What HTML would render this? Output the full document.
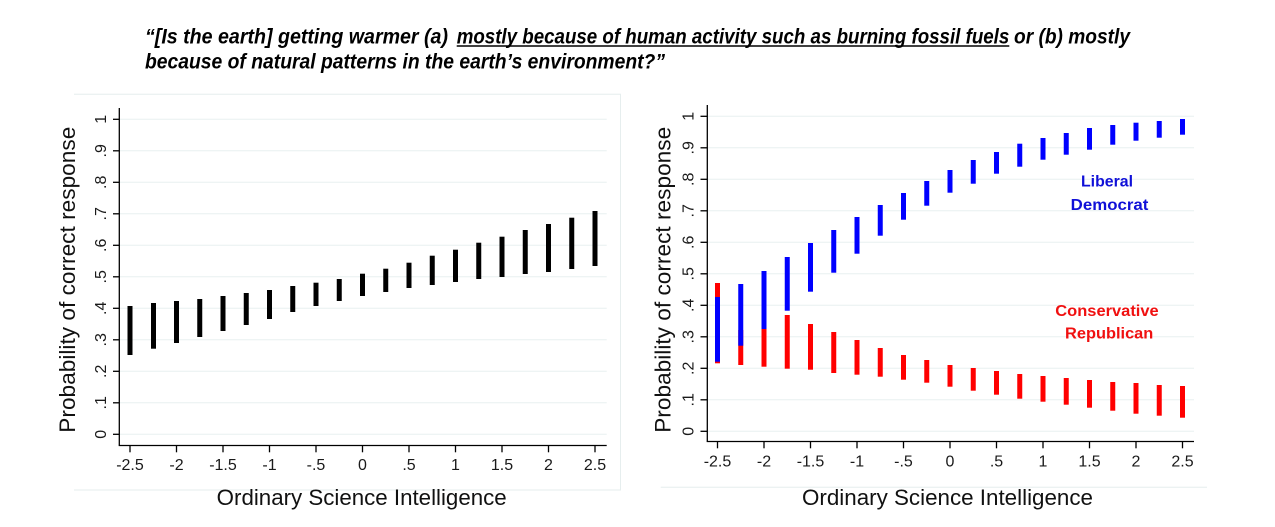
<!DOCTYPE html>
<html><head><meta charset="utf-8"><style>
html,body{margin:0;padding:0;background:#fff;}
svg{display:block;}
.t{font-family:"Liberation Sans",sans-serif;font-size:16px;fill:#1a1a1a;}
.ti{font-family:"Liberation Sans",sans-serif;font-size:22px;fill:#111;}
.hd{font-family:"Liberation Sans",sans-serif;font-size:21px;font-weight:bold;font-style:italic;fill:#000;}
.lb{font-family:"Liberation Sans",sans-serif;font-size:16px;font-weight:bold;}
</style></head><body>
<svg width="1275" height="527" viewBox="0 0 1275 527" xmlns="http://www.w3.org/2000/svg">
<rect x="0" y="0" width="1275" height="527" fill="#fff"/>
<!-- Title -->
<text class="hd" x="145" y="43.3" textLength="303" lengthAdjust="spacingAndGlyphs">“[Is the earth] getting warmer (a)</text>
<text class="hd" x="456.7" y="43.3" textLength="552.6" lengthAdjust="spacingAndGlyphs">mostly because of human activity such as burning fossil fuels</text>
<text class="hd" x="1014" y="43.3" textLength="116" lengthAdjust="spacingAndGlyphs">or (b) mostly</text>
<line x1="456.7" y1="46" x2="1009.3" y2="46" stroke="#000" stroke-width="1.5"/>
<text class="hd" x="145" y="68.3" textLength="520" lengthAdjust="spacingAndGlyphs">because of natural patterns in the earth’s environment?”</text>

<!-- Left region faint box -->
<polyline points="74,94.3 620.5,94.3 620.5,490 74,490" fill="none" stroke="#e6eeee" stroke-width="1"/>
<!-- Right region bottom line -->
<line x1="660.7" y1="487.3" x2="1207" y2="487.3" stroke="#e6eeee" stroke-width="1"/>

<!-- LEFT CHART -->
<g id="left">
<g stroke="#e8f0f0" stroke-width="1">
<line x1="119" y1="434.3" x2="606.7" y2="434.3"/>
<line x1="119" y1="402.8" x2="606.7" y2="402.8"/>
<line x1="119" y1="371.3" x2="606.7" y2="371.3"/>
<line x1="119" y1="339.8" x2="606.7" y2="339.8"/>
<line x1="119" y1="308.3" x2="606.7" y2="308.3"/>
<line x1="119" y1="276.8" x2="606.7" y2="276.8"/>
<line x1="119" y1="245.3" x2="606.7" y2="245.3"/>
<line x1="119" y1="213.8" x2="606.7" y2="213.8"/>
<line x1="119" y1="182.3" x2="606.7" y2="182.3"/>
<line x1="119" y1="150.8" x2="606.7" y2="150.8"/>
<line x1="119" y1="119.3" x2="606.7" y2="119.3"/>
</g>
<g stroke="#000" stroke-width="1.3">
<line x1="119.3" y1="108" x2="119.3" y2="445.5"/>
<line x1="118.7" y1="445.5" x2="606.7" y2="445.5"/>
<line x1="113" y1="434.3" x2="119.3" y2="434.3"/>
<line x1="113" y1="402.8" x2="119.3" y2="402.8"/>
<line x1="113" y1="371.3" x2="119.3" y2="371.3"/>
<line x1="113" y1="339.8" x2="119.3" y2="339.8"/>
<line x1="113" y1="308.3" x2="119.3" y2="308.3"/>
<line x1="113" y1="276.8" x2="119.3" y2="276.8"/>
<line x1="113" y1="245.3" x2="119.3" y2="245.3"/>
<line x1="113" y1="213.8" x2="119.3" y2="213.8"/>
<line x1="113" y1="182.3" x2="119.3" y2="182.3"/>
<line x1="113" y1="150.8" x2="119.3" y2="150.8"/>
<line x1="113" y1="119.3" x2="119.3" y2="119.3"/>
<line x1="130" y1="445.5" x2="130" y2="452.3"/>
<line x1="176.5" y1="445.5" x2="176.5" y2="452.3"/>
<line x1="223" y1="445.5" x2="223" y2="452.3"/>
<line x1="269.5" y1="445.5" x2="269.5" y2="452.3"/>
<line x1="316" y1="445.5" x2="316" y2="452.3"/>
<line x1="362.5" y1="445.5" x2="362.5" y2="452.3"/>
<line x1="409" y1="445.5" x2="409" y2="452.3"/>
<line x1="455.5" y1="445.5" x2="455.5" y2="452.3"/>
<line x1="502" y1="445.5" x2="502" y2="452.3"/>
<line x1="548.5" y1="445.5" x2="548.5" y2="452.3"/>
<line x1="595" y1="445.5" x2="595" y2="452.3"/>
</g>
<g class="t" text-anchor="middle">
<text x="130" y="470">-2.5</text>
<text x="176.5" y="470">-2</text>
<text x="223" y="470">-1.5</text>
<text x="269.5" y="470">-1</text>
<text x="316" y="470">-.5</text>
<text x="362.5" y="470">0</text>
<text x="409" y="470">.5</text>
<text x="455.5" y="470">1</text>
<text x="502" y="470">1.5</text>
<text x="548.5" y="470">2</text>
<text x="595" y="470">2.5</text>
</g>
<g class="t" text-anchor="middle">
<text transform="translate(106,434.3) rotate(-90)">0</text>
<text transform="translate(106,402.8) rotate(-90)">.1</text>
<text transform="translate(106,371.3) rotate(-90)">.2</text>
<text transform="translate(106,339.8) rotate(-90)">.3</text>
<text transform="translate(106,308.3) rotate(-90)">.4</text>
<text transform="translate(106,276.8) rotate(-90)">.5</text>
<text transform="translate(106,245.3) rotate(-90)">.6</text>
<text transform="translate(106,213.8) rotate(-90)">.7</text>
<text transform="translate(106,182.3) rotate(-90)">.8</text>
<text transform="translate(106,150.8) rotate(-90)">.9</text>
<text transform="translate(106,119.3) rotate(-90)">1</text>
</g>
<text class="ti" text-anchor="middle" transform="translate(75,279.7) rotate(-90)" textLength="306" lengthAdjust="spacingAndGlyphs">Probability of correct response</text>
<text class="ti" x="216.7" y="505" textLength="290" lengthAdjust="spacingAndGlyphs">Ordinary Science Intelligence</text>
<g fill="#000">
<rect x="127.5" y="306" width="5" height="49"/>
<rect x="151" y="303" width="5" height="45.7"/>
<rect x="174" y="301" width="5" height="42"/>
<rect x="197.25" y="299" width="5" height="38"/>
<rect x="220.5" y="296" width="5" height="35"/>
<rect x="243.75" y="293" width="5" height="32"/>
<rect x="267" y="290" width="5" height="29"/>
<rect x="290.25" y="286" width="5" height="26"/>
<rect x="313.5" y="282.7" width="5" height="23.3"/>
<rect x="336.75" y="279" width="5" height="22"/>
<rect x="360" y="273.7" width="5" height="22.3"/>
<rect x="383.25" y="268.7" width="5" height="23.3"/>
<rect x="406.5" y="262.7" width="5" height="25.3"/>
<rect x="429.75" y="255.7" width="5" height="29.3"/>
<rect x="453" y="249.7" width="5" height="32.3"/>
<rect x="476.25" y="242.7" width="5" height="36.3"/>
<rect x="499.5" y="236.7" width="5" height="40.3"/>
<rect x="522.75" y="230" width="5" height="44"/>
<rect x="546" y="224" width="5" height="48"/>
<rect x="569.25" y="217.7" width="5" height="51.3"/>
<rect x="592.5" y="211" width="5" height="55"/>
</g>
</g>

<!-- RIGHT CHART -->
<g id="right">
<g stroke="#e8f0f0" stroke-width="1">
<line x1="707" y1="431.3" x2="1194" y2="431.3"/>
<line x1="707" y1="399.8" x2="1194" y2="399.8"/>
<line x1="707" y1="368.3" x2="1194" y2="368.3"/>
<line x1="707" y1="336.8" x2="1194" y2="336.8"/>
<line x1="707" y1="305.3" x2="1194" y2="305.3"/>
<line x1="707" y1="273.8" x2="1194" y2="273.8"/>
<line x1="707" y1="242.3" x2="1194" y2="242.3"/>
<line x1="707" y1="210.8" x2="1194" y2="210.8"/>
<line x1="707" y1="179.3" x2="1194" y2="179.3"/>
<line x1="707" y1="147.8" x2="1194" y2="147.8"/>
<line x1="707" y1="116.3" x2="1194" y2="116.3"/>
</g>
<g stroke="#000" stroke-width="1.3">
<line x1="707.3" y1="105" x2="707.3" y2="441.5"/>
<line x1="706.7" y1="441.5" x2="1194" y2="441.5"/>
<line x1="700.5" y1="431.3" x2="707.3" y2="431.3"/>
<line x1="700.5" y1="399.8" x2="707.3" y2="399.8"/>
<line x1="700.5" y1="368.3" x2="707.3" y2="368.3"/>
<line x1="700.5" y1="336.8" x2="707.3" y2="336.8"/>
<line x1="700.5" y1="305.3" x2="707.3" y2="305.3"/>
<line x1="700.5" y1="273.8" x2="707.3" y2="273.8"/>
<line x1="700.5" y1="242.3" x2="707.3" y2="242.3"/>
<line x1="700.5" y1="210.8" x2="707.3" y2="210.8"/>
<line x1="700.5" y1="179.3" x2="707.3" y2="179.3"/>
<line x1="700.5" y1="147.8" x2="707.3" y2="147.8"/>
<line x1="700.5" y1="116.3" x2="707.3" y2="116.3"/>
<line x1="717.5" y1="441.5" x2="717.5" y2="448.3"/>
<line x1="764" y1="441.5" x2="764" y2="448.3"/>
<line x1="810.5" y1="441.5" x2="810.5" y2="448.3"/>
<line x1="857" y1="441.5" x2="857" y2="448.3"/>
<line x1="903.5" y1="441.5" x2="903.5" y2="448.3"/>
<line x1="950" y1="441.5" x2="950" y2="448.3"/>
<line x1="996.5" y1="441.5" x2="996.5" y2="448.3"/>
<line x1="1043" y1="441.5" x2="1043" y2="448.3"/>
<line x1="1089.5" y1="441.5" x2="1089.5" y2="448.3"/>
<line x1="1136" y1="441.5" x2="1136" y2="448.3"/>
<line x1="1182.5" y1="441.5" x2="1182.5" y2="448.3"/>
</g>
<g class="t" text-anchor="middle">
<text x="717.5" y="466.7">-2.5</text>
<text x="764" y="466.7">-2</text>
<text x="810.5" y="466.7">-1.5</text>
<text x="857" y="466.7">-1</text>
<text x="903.5" y="466.7">-.5</text>
<text x="950" y="466.7">0</text>
<text x="996.5" y="466.7">.5</text>
<text x="1043" y="466.7">1</text>
<text x="1089.5" y="466.7">1.5</text>
<text x="1136" y="466.7">2</text>
<text x="1182.5" y="466.7">2.5</text>
</g>
<g class="t" text-anchor="middle">
<text transform="translate(693.3,431.3) rotate(-90)">0</text>
<text transform="translate(693.3,399.8) rotate(-90)">.1</text>
<text transform="translate(693.3,368.3) rotate(-90)">.2</text>
<text transform="translate(693.3,336.8) rotate(-90)">.3</text>
<text transform="translate(693.3,305.3) rotate(-90)">.4</text>
<text transform="translate(693.3,273.8) rotate(-90)">.5</text>
<text transform="translate(693.3,242.3) rotate(-90)">.6</text>
<text transform="translate(693.3,210.8) rotate(-90)">.7</text>
<text transform="translate(693.3,179.3) rotate(-90)">.8</text>
<text transform="translate(693.3,147.8) rotate(-90)">.9</text>
<text transform="translate(693.3,116.3) rotate(-90)">1</text>
</g>
<text class="ti" text-anchor="middle" transform="translate(670.7,279.8) rotate(-90)" textLength="306" lengthAdjust="spacingAndGlyphs">Probability of correct response</text>
<text class="ti" x="802" y="505" textLength="291" lengthAdjust="spacingAndGlyphs">Ordinary Science Intelligence</text>
<!-- red bars -->
<g fill="#ff0000">
<rect x="715" y="283" width="5" height="80.3"/>
<rect x="738.25" y="330" width="5" height="35"/>
<rect x="761.5" y="320" width="5" height="46.7"/>
<rect x="784.75" y="315" width="5" height="53.7"/>
<rect x="808" y="324" width="5" height="45.7"/>
<rect x="831.25" y="332" width="5" height="41"/>
<rect x="854.5" y="340" width="5" height="34.7"/>
<rect x="877.75" y="348" width="5" height="28.7"/>
<rect x="901" y="355" width="5" height="24.7"/>
<rect x="924.25" y="360" width="5" height="22.7"/>
<rect x="947.5" y="365" width="5" height="21.7"/>
<rect x="970.75" y="368" width="5" height="22.7"/>
<rect x="994" y="371" width="5" height="23.7"/>
<rect x="1017.25" y="374" width="5" height="24.7"/>
<rect x="1040.5" y="376" width="5" height="25.7"/>
<rect x="1063.75" y="378" width="5" height="26.7"/>
<rect x="1087" y="380" width="5" height="27.7"/>
<rect x="1110.25" y="382" width="5" height="28.7"/>
<rect x="1133.5" y="383" width="5" height="30.7"/>
<rect x="1156.75" y="385" width="5" height="30.7"/>
<rect x="1180" y="386" width="5" height="31.7"/>
</g>
<!-- blue bars -->
<g fill="#0000ff">
<rect x="715" y="297" width="5" height="64.7"/>
<rect x="738.25" y="284" width="5" height="61.7"/>
<rect x="761.5" y="271" width="5" height="58"/>
<rect x="784.75" y="257" width="5" height="53.7"/>
<rect x="808" y="243" width="5" height="48.7"/>
<rect x="831.25" y="230" width="5" height="42.7"/>
<rect x="854.5" y="217" width="5" height="36.7"/>
<rect x="877.75" y="205" width="5" height="30.7"/>
<rect x="901" y="193" width="5" height="26.7"/>
<rect x="924.25" y="181" width="5" height="24.7"/>
<rect x="947.5" y="170" width="5" height="22.7"/>
<rect x="970.75" y="160" width="5" height="23.7"/>
<rect x="994" y="152" width="5" height="21.7"/>
<rect x="1017.25" y="143.7" width="5" height="23"/>
<rect x="1040.5" y="138" width="5" height="21.7"/>
<rect x="1063.75" y="133" width="5" height="21.7"/>
<rect x="1087" y="128" width="5" height="21.7"/>
<rect x="1110.25" y="125" width="5" height="19.7"/>
<rect x="1133.5" y="122.7" width="5" height="18"/>
<rect x="1156.75" y="121" width="5" height="16.7"/>
<rect x="1180" y="119" width="5" height="15.7"/>
</g>
<text class="lb" fill="#1010d8" x="1081" y="186.7" textLength="52" lengthAdjust="spacingAndGlyphs">Liberal</text>
<text class="lb" fill="#1010d8" x="1070.7" y="210" textLength="77.7" lengthAdjust="spacingAndGlyphs">Democrat</text>
<text class="lb" fill="#f01010" x="1055.3" y="316" textLength="103.4" lengthAdjust="spacingAndGlyphs">Conservative</text>
<text class="lb" fill="#f01010" x="1065" y="338.3" textLength="88.3" lengthAdjust="spacingAndGlyphs">Republican</text>
</g>
</svg>
</body></html>
